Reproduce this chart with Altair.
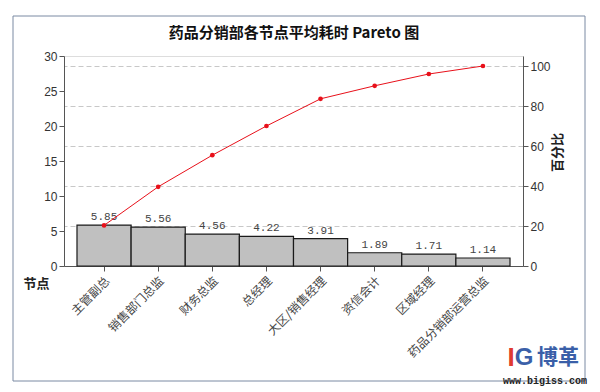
import altair as alt
import pandas as pd

categories = ["主管副总", "销售部门总监", "财务总监", "总经理", "大区/销售经理", "资信会计", "区域经理", "药品分销部运营总监"]
values = [5.85, 5.56, 4.56, 4.22, 3.91, 1.89, 1.71, 1.14]
value_labels = ["5.85", "5.56", "4.56", "4.22", "3.91", "1.89", "1.71", "1.14"]
cum_percent = [20.3, 39.6, 55.4, 70.0, 83.6, 90.1, 96.0, 100.0]

df = pd.DataFrame({"cat": categories, "val": values, "lab": value_labels, "cum": cum_percent})

FONT = "Noto Sans CJK SC"

x = alt.X("cat:N", sort=None, title=None,
          scale=alt.Scale(paddingInner=0, paddingOuter=0.24),
          axis=alt.Axis(labelAngle=-45, labelFontSize=12, labelColor="#444", labelFont=FONT,
                        tickColor="#555", domainColor="#555", tickSize=5, labelPadding=4,
                        grid=False))

y_left = alt.Y("val:Q", scale=alt.Scale(domain=[0, 30], nice=False),
               axis=alt.Axis(orient="left", values=[0, 5, 10, 15, 20, 25, 30], grid=False,
                             labelOverlap=False,
                             title="节点", titleAngle=0, titleX=-28, titleY=227,
                             titleAlign="center", titleBaseline="middle", titleFont=FONT,
                             titleFontSize=13, titleFontWeight="bold", titleColor="#222",
                             labelFontSize=12, labelColor="#333", labelFont="Liberation Sans",
                             tickColor="#555", domainColor="#555", tickSize=5))

y_right = alt.Y("cum:Q", scale=alt.Scale(domain=[0, 105], nice=False),
                axis=alt.Axis(orient="right", values=[0, 20, 40, 60, 80, 100], grid=True,
                              labelOverlap=False,
                              gridDash=[5, 3], gridColor="#c8c8c8", gridWidth=1,
                              title="百分比", titleAngle=-90, titleX=34, titleY=96,
                              titleAlign="center", titleBaseline="middle", titleFont=FONT,
                              titleFontSize=13, titleFontWeight="bold", titleColor="#222",
                              labelFontSize=12, labelColor="#333", labelFont="Liberation Sans",
                              tickColor="#555", domainColor="#555", tickSize=5))

base = alt.Chart(df)

bars = base.mark_bar(color="#c0c0c0", stroke="#1a1a1a", strokeWidth=1.2).encode(x=x, y=y_left)
texts = base.mark_text(dy=-8, fontSize=11, color="#444", font="Liberation Mono").encode(
    x=x, y=y_left, text="lab:N")
left = alt.layer(bars, texts)

line = base.mark_line(color="#e8101a", strokeWidth=1).encode(x=x, y=y_right)
points = base.mark_circle(color="#e8101a", size=22, opacity=1).encode(x=x, y=y_right)
right = alt.layer(line, points)

deco = alt.Chart(pd.DataFrame({"a": [0]}))
frame = deco.mark_rect(fillOpacity=0, stroke="#7a8aa3", strokeWidth=1).encode(
    x=alt.value(-51), x2=alt.value(521), y=alt.value(-40), y2=alt.value(325))
title = deco.mark_text(text="药品分销部各节点平均耗时 Pareto 图", fontSize=15, fontWeight="bold",
                       color="#111", font=FONT).encode(x=alt.value(230), y=alt.value(-23))
logo1 = deco.mark_text(text="I", fontSize=26, fontWeight="bold", color="#e03b2f", font="Liberation Sans").encode(
    x=alt.value(447), y=alt.value(302))
logo2 = deco.mark_text(text="G", fontSize=24, fontWeight="bold", color="#3a5fa8", font="Liberation Sans").encode(
    x=alt.value(460), y=alt.value(302))
brand = deco.mark_text(text="博革", fontSize=21, fontWeight="bold", color="#3a5fa8", font=FONT).encode(
    x=alt.value(494), y=alt.value(302))
url = deco.mark_text(text="www.bigiss.com", fontSize=10, fontWeight="bold", color="#222", font="Liberation Mono").encode(
    x=alt.value(481), y=alt.value(325))

chart = alt.layer(frame, left, right, title, logo1, logo2, brand, url).resolve_scale(y="independent").properties(
    width=459, height=210,
    padding={"left": 56, "top": 48, "right": 69, "bottom": 120},
    autosize=alt.AutoSizeParams(type="none"),
).configure_view(stroke="#555", strokeWidth=1.5).configure(background="white")

chart.save("out.html", embed_options={"renderer": "svg", "actions": False})
